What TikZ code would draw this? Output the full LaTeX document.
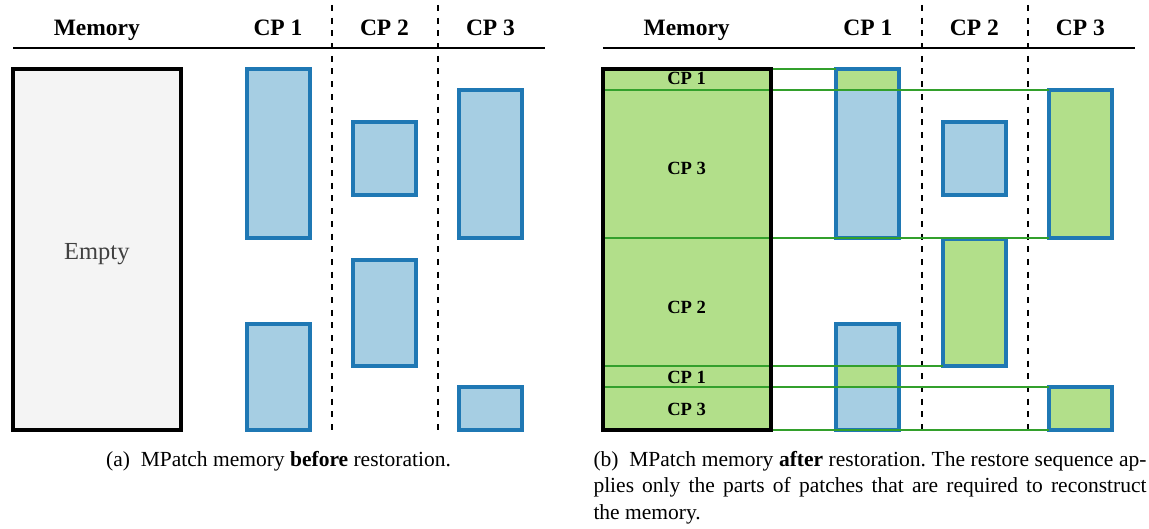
\documentclass[tikz,border=0pt]{standalone}
\usepackage{fontspec}
\setmainfont{Liberation Serif}
\definecolor{pblue}{HTML}{A6CEE3}
\definecolor{pbord}{HTML}{1F78B4}
\definecolor{pgreen}{HTML}{B2DF8A}
\definecolor{pgline}{HTML}{33A02C}
\definecolor{emptyfill}{HTML}{F4F4F4}
\definecolor{emptytext}{HTML}{404040}
\begin{document}
\frenchspacing
\begin{tikzpicture}[x=1pt,y=-1pt,
  patch/.style={draw=pbord, line width=4pt, fill=pblue, anchor=north west, inner sep=0pt, outer sep=0pt},
  greenpatch/.style={patch, fill=pgreen},
  memfill/.style={anchor=north west, inner sep=0pt, outer sep=0pt, minimum width=167.7pt, minimum height=361pt},
  memborder/.style={draw=black, line width=4pt},
  header/.style={anchor=base, font=\fontsize{23.5}{28}\selectfont\bfseries},
  inlabel/.style={anchor=base, font=\fontsize{18.6}{22}\selectfont\bfseries},
  rule/.style={draw=black, line width=2pt},
  divider/.style={draw=black, line width=1.8pt, dash pattern=on 6pt off 6.7pt},
  gline/.style={draw=pgline, line width=2pt},
  caption/.style={anchor=base west, inner sep=0pt, font=\fontsize{21.5}{27}\selectfont}
]
\useasboundingbox (0,0) rectangle (1149,529);

% ---------------- left panel ----------------
\draw[rule] (13.3,48.3) -- (545,48.3);
\node[header] (Lhm) at (96.85,36) {Memory};
\node[header] (Lh1) at (278,36) {CP 1};
\node[header] (Lh2) at (384.5,36) {CP 2};
\node[header] (Lh3) at (490.5,36) {CP 3};
\draw[divider] (332,5) -- (332,431.7);
\draw[divider] (438.3,5) -- (438.3,431.7);

\node[memfill, fill=emptyfill] (Lmem) at (13,68.7) {};
\draw[memborder] (Lmem.north west) rectangle (Lmem.south east);
\node[anchor=base, font=\fontsize{24.5}{29}\selectfont, text=emptytext] (Lempty) at (96.85,260) {Empty};

\node[patch, minimum width=63pt, minimum height=169.3pt] (La1) at (246.5,68.7) {};
\node[patch, minimum width=63pt, minimum height=106pt] (Lb1) at (246.5,323.7) {};
\node[patch, minimum width=63pt, minimum height=72.7pt] (La2) at (353,122) {};
\node[patch, minimum width=63pt, minimum height=106pt] (Lb2) at (353,259.7) {};
\node[patch, minimum width=63pt, minimum height=147.7pt] (La3) at (459.3,90.3) {};
\node[patch, minimum width=63pt, minimum height=42.4pt] (Lb3) at (459.3,387.3) {};

% ---------------- right panel ----------------
\begin{scope}[xshift=589.8pt]
\draw[rule] (13,48.3) -- (545.6,48.3);
\node[header] (Rhm) at (96.85,36) {Memory};
\node[header] (Rh1) at (278,36) {CP 1};
\node[header] (Rh2) at (384.5,36) {CP 2};
\node[header] (Rh3) at (490.5,36) {CP 3};
\draw[divider] (332,5) -- (332,431.7);
\draw[divider] (438.3,5) -- (438.3,431.7);

\node[memfill, fill=pgreen] (Rmem) at (13,68.7) {};

\node[patch, minimum width=63pt, minimum height=169.3pt] (Ra1) at (246.5,68.7) {};
\node[patch, minimum width=63pt, minimum height=106pt] (Rb1) at (246.5,323.7) {};
\node[patch, minimum width=63pt, minimum height=72.7pt] (Ra2) at (353,122) {};
\node[greenpatch, minimum width=63pt, minimum height=126.7pt] (Rb2) at (353,239) {};
\node[greenpatch, minimum width=63pt, minimum height=147.7pt] (Ra3) at (459.3,90.3) {};
\node[greenpatch, minimum width=63pt, minimum height=42.4pt] (Rb3) at (459.3,387.3) {};

% applied parts of CP 1 patches
\fill[pgreen] ([xshift=2pt,yshift=-2pt]Ra1.north west) rectangle ([xshift=-2pt]Ra1.east |- Ra3.north);
\fill[pgreen] ([xshift=2pt]Rb1.west |- Rb2.south) rectangle ([xshift=-2pt]Rb1.east |- Rb3.north);

% restore connectors
\draw[gline] (Rmem.north east) -- (Ra1.north west);
\draw[gline] (Rmem.west |- Ra3.north) -- (Ra3.north west);
\draw[gline] (Rmem.west |- Ra3.south) -- (Ra3.south west);
\draw[gline] (Rmem.west |- Rb2.south) -- (Rb2.south west);
\draw[gline] (Rmem.west |- Rb3.north) -- (Rb3.north west);
\draw[gline] (Rmem.south east) -- (Rb3.south west);

\draw[memborder] (Rmem.north west) rectangle (Rmem.south east);

\node[inlabel] (Rl1) at (96.85,85) {CP 1};
\node[inlabel] (Rl2) at (96.85,175) {CP 3};
\node[inlabel] (Rl3) at (96.85,313.3) {CP 2};
\node[inlabel] (Rl4) at (96.85,383.3) {CP 1};
\node[inlabel] (Rl5) at (96.85,415) {CP 3};
\end{scope}

% ---------------- captions ----------------
\node[caption] (capa) at (106,466) {(a)\enspace MPatch memory \textbf{before} restoration.};
\node[caption] (capb1) at (593.3,466) {\makebox[553pt][s]{(b)\enspace MPatch memory \textbf{after} restoration. The restore sequence ap-}};
\node[caption] (capb2) at (593.3,492.5) {\makebox[553pt][s]{plies only the parts of patches that are required to reconstruct}};
\node[caption] (capb3) at (593.3,519) {the memory.};
\end{tikzpicture}
\end{document}
